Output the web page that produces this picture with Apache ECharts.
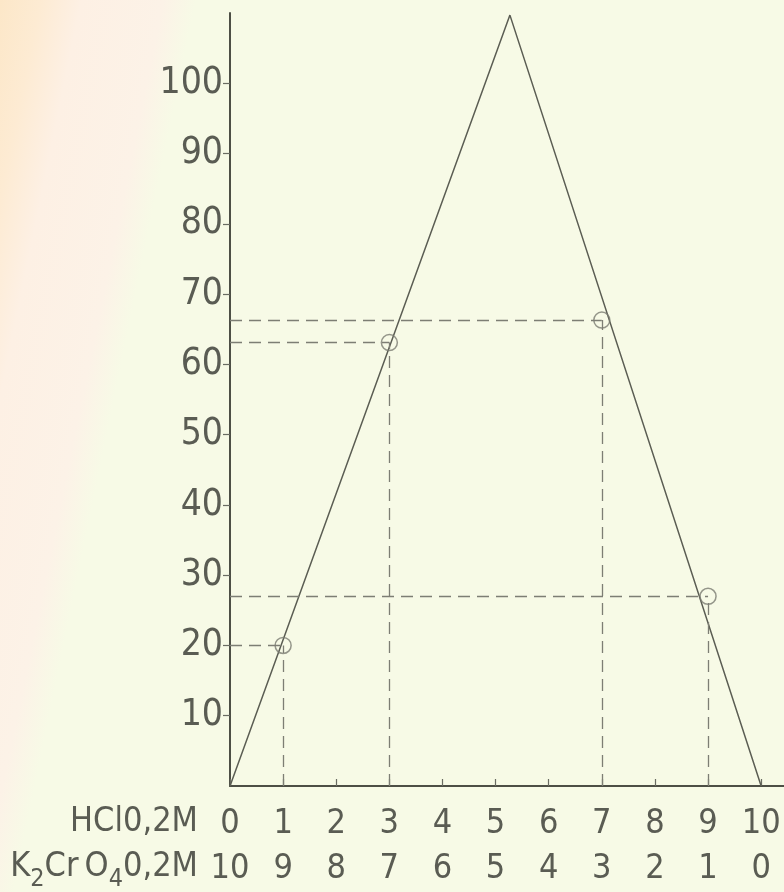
<!DOCTYPE html>
<html>
<head>
<meta charset="utf-8">
<script src="https://cdn.jsdelivr.net/npm/echarts@6/dist/echarts.min.js"></script>
<style>
  html, body { margin: 0; padding: 0; background: #f7fae6; }
  #chart { width: 784px; height: 892px; }
</style>
</head>
<body>
<div id="chart"></div>
<script>
// Job's method plot: HCl 0,2M vs K2CrO4 0,2M
var hclLabels = [0, 1, 2, 3, 4, 5, 6, 7, 8, 9, 10];
var k2Labels = [10, 9, 8, 7, 6, 5, 4, 3, 2, 1, 0];
var yTicks = [10, 20, 30, 40, 50, 60, 70, 80, 90, 100];

// the triangle (two straight lines meeting at the peak)
var triangleX = [0, 5.27, 10];
var triangleY = [0, 109.7, 0];

// measured points
var pointX = [1, 3, 7, 9];
var pointY = [20, 63.1, 66.3, 27];

var font = '"Liberation Sans Narrow", "DejaVu Sans Condensed", "Roboto", sans-serif';
var ink = '#5a5c53';

var chart = echarts.init(document.getElementById('chart'), null, { renderer: 'canvas' });

var guideLines = [];
pointX.forEach(function (x, i) {
  guideLines.push([{ coord: [0, pointY[i]] }, { coord: [x, pointY[i]] }]);
  guideLines.push([{ coord: [x, 0] }, { coord: [x, pointY[i]] }]);
});

var option = {
  animation: false,
  backgroundColor: {
    type: 'linear', x: 0, y: 0, x2: 1, y2: 0.18,
    colorStops: [
      { offset: 0, color: '#fce7c8' },
      { offset: 0.05, color: '#fdebd3' },
      { offset: 0.1, color: '#fdf0e4' },
      { offset: 0.2, color: '#fcf2e7' },
      { offset: 0.24, color: '#f7fae6' },
      { offset: 1, color: '#f7fae6' }
    ]
  },
  grid: { left: 230, right: 0, top: 13, bottom: 104 },
  xAxis: {
    type: 'value',
    min: 0,
    max: 10.43,
    interval: 1,
    splitLine: { show: false },
    axisLine: { lineStyle: { color: '#4d4f45', width: 2 } },
    axisTick: {
      show: true, inside: true, length: 7,
      customValues: hclLabels,
      lineStyle: { color: '#6a6c62', width: 1.2 }
    },
    axisLabel: {
      customValues: hclLabels,
      margin: 16,
      color: ink,
      fontFamily: font,
      fontSize: 34,
      lineHeight: 45,
      formatter: function (v) {
        var i = hclLabels.indexOf(v);
        return hclLabels[i] + '\n' + k2Labels[i];
      }
    }
  },
  yAxis: {
    type: 'value',
    min: 0,
    max: 110,
    interval: 10,
    splitLine: { show: false },
    axisLine: { lineStyle: { color: '#4d4f45', width: 2 } },
    axisTick: {
      show: true, length: 7,
      customValues: yTicks,
      lineStyle: { color: '#6a6c62', width: 1.2 }
    },
    axisLabel: {
      customValues: yTicks,
      margin: 7,
      color: ink,
      fontFamily: font,
      fontSize: 37
    }
  },
  series: [
    {
      type: 'line',
      data: triangleX.map(function (x, i) { return [x, triangleY[i]]; }),
      symbol: 'none',
      lineStyle: { color: '#5b5d53', width: 1.5 },
      z: 3
    },
    {
      type: 'scatter',
      data: pointX.map(function (x, i) { return [x, pointY[i]]; }),
      symbol: 'circle',
      symbolSize: 16,
      itemStyle: { color: 'transparent', borderColor: '#7b7c72', borderWidth: 1.5 },
      markLine: {
        silent: true,
        symbol: 'none',
        label: { show: false },
        lineStyle: { color: '#7d7e74', width: 1.3, type: [12, 7] },
        data: guideLines
      },
      z: 4
    }
  ],
  graphic: [
    {
      type: 'text',
      right: 784 - 198,
      top: 805,
      style: {
        text: 'HCl0,2M',
        font: '34px ' + font,
        fill: ink
      }
    },
    {
      type: 'text',
      right: 784 - 198,
      top: 850,
      style: {
        text: '{n|K}{s|2}{n|Cr\u2009O}{s|4}{n|0,2M}',
        fill: ink,
        rich: {
          n: { fontFamily: font, fontSize: 34, lineHeight: 36, verticalAlign: 'top', color: ink },
          s: { fontFamily: font, fontSize: 25, lineHeight: 26, verticalAlign: 'top', padding: [17, 0, 0, 0], color: ink }
        }
      }
    }
  ]
};

chart.setOption(option);
</script>
</body>
</html>
